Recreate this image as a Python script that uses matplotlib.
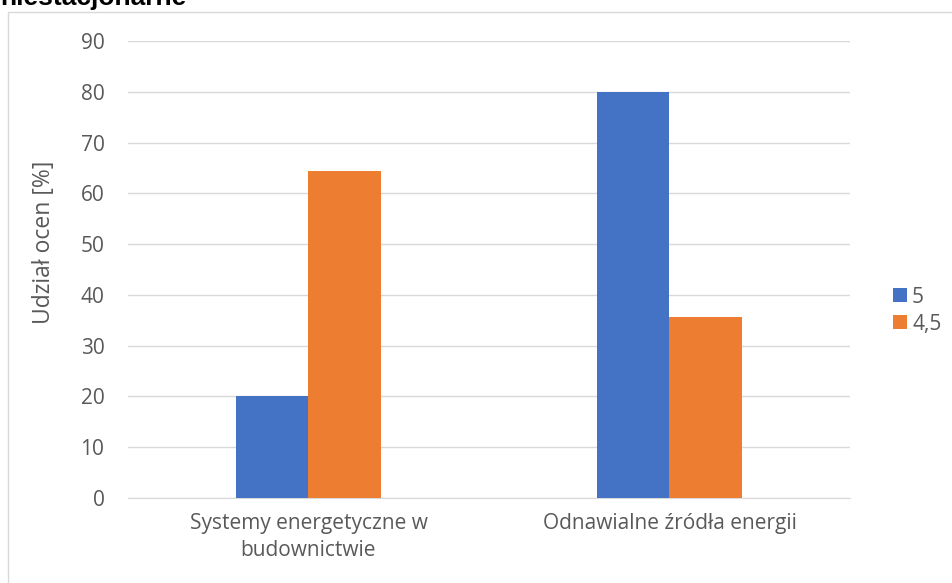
import matplotlib.pyplot as plt
import numpy as np
from matplotlib.patches import Rectangle

categories = ['Systemy energetyczne w\nbudownictwie', 'Odnawialne źródła energii']
series_names = ['5', '4,5']
ocena_5 = [20, 80]
ocena_45 = [64.3, 35.7]
colors = ['#4472C4', '#ED7D31']

plt.rcParams['font.family'] = ['Open Sans', 'DejaVu Sans']
grey = '#595959'

fig = plt.figure(figsize=(9.53, 5.83), dpi=100)
ax = fig.add_axes([128/953, 85/583, 722/953, 457/583])

x = np.arange(len(categories))
w = 0.2
ax.bar(x - w/2, ocena_5, w, color=colors[0], label=series_names[0], zorder=3)
ax.bar(x + w/2, ocena_45, w, color=colors[1], label=series_names[1], zorder=3)

ax.set_xlim(-0.5, 1.5)
ax.set_ylim(0, 90)
ax.set_yticks(range(0, 91, 10))
ax.yaxis.grid(True, color='#d9d9d9', linewidth=1, zorder=0)
for s in ['top', 'right', 'left']:
    ax.spines[s].set_visible(False)
ax.spines['bottom'].set_color('#d9d9d9')
ax.tick_params(axis='both', length=0, colors=grey, labelsize=15)
ax.tick_params(axis='y', pad=17)
ax.tick_params(axis='x', pad=11)
ax.set_xticks(x)
ax.set_xticklabels(categories, linespacing=1.35)

fig.text(44/953, 1 - 242/583, 'Udział ocen [%]', color=grey, fontsize=16.5,
         rotation=90, ha='center', va='center')

ax.legend(loc='center left', bbox_to_anchor=(1.034, 0.41), frameon=False,
          fontsize=15, labelcolor=grey, handlelength=0.65, handleheight=0.65,
          handletextpad=0.25, labelspacing=0.3)

# ramka wykresu
fig.patches.append(Rectangle((8/953, -0.1), 1.1, 1 - 12/583 + 0.1,
                             transform=fig.transFigure, fill=False,
                             edgecolor='#d9d9d9', linewidth=1))

fig.text(0.0, 1 - 4.5/583, 'niestacjonarne', fontsize=19, fontweight='bold',
         family='Liberation Sans', color='black', va='baseline', ha='left')

fig.savefig('out.png', dpi=100)
